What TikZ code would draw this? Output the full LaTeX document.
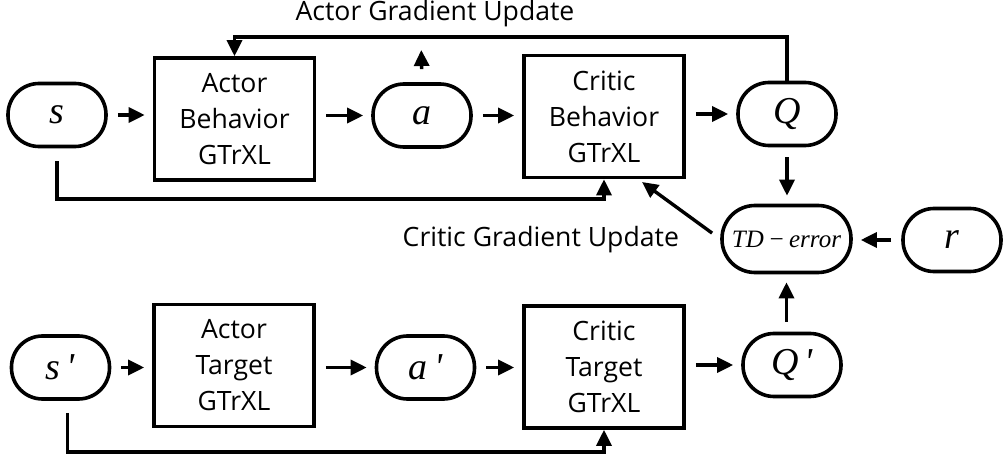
\documentclass[tikz,border=0pt]{standalone}
\usepackage{fontspec}
\setmainfont{Open Sans}
\newfontfamily\mathserif{Liberation Serif}
\usetikzlibrary{arrows.meta}

\tikzset{
  block/.style={draw,line width=1.8pt,minimum width=80pt,minimum height=61pt,
    inner sep=0pt,align=center,font=\fontsize{13.3}{18}\selectfont},
  pill/.style={draw,line width=1.8pt,rounded corners=15.5pt,minimum width=49pt,
    minimum height=31.5pt,inner sep=0pt,font=\mathserif\itshape\fontsize{19}{19}\selectfont},
  arr/.style={line width=1.7pt,-{Triangle[length=8pt,width=7.5pt]}},
  gap/.style={shorten <=5pt,shorten >=4pt},
  lbl/.style={font=\fontsize{13.3}{16}\selectfont},
}

\begin{document}
\begin{tikzpicture}[x=0.5pt,y=-0.5pt]
  \useasboundingbox (0,0) rectangle (1003,460);

  % behaviour networks
  \node[pill] (s) at (57,115) {s};
  \node[block] (actorB) at (234.5,119) {Actor\\Behavior\\GTrXL};
  \node[pill] (a) at (422,115.5) {a};
  \node[block] (criticB) at (604,116.5) {Critic\\Behavior\\GTrXL};
  \node[pill] (Q) at (787,114) {Q};
  \node[pill,minimum width=64.5pt,minimum height=33.5pt,rounded corners=16.5pt,
    font=\mathserif\itshape\fontsize{12.5}{12.5}\selectfont] (td) at (786.5,239) {TD\,−\,error};
  \node[pill] (r) at (952,240) {r};

  % target networks
  \node[pill] (sp) at (60.5,367.5) {s\,\textquotesingle};
  \node[block] (actorT) at (234,365.5) {Actor\\Target\\GTrXL};
  \node[pill] (ap) at (425.5,367.5) {a\,\textquotesingle};
  \node[block] (criticT) at (604,367) {Critic\\Target\\GTrXL};
  \node[pill] (Qp) at (792,365) {Q\,\textquotesingle};

  % labels
  \node[lbl] (agulabel) at (435,14) {Actor Gradient Update};
  \node[lbl,anchor=east] (cgulabel) at (686,240) {Critic Gradient Update};

  \coordinate (topline) at (0,37);
  \coordinate (sline) at (0,199);
  \coordinate (spline) at (0,452);
  \coordinate (agu) at (421,37);
  \coordinate (cgu) at (642,182);

  % forward arrows
  \draw[arr,gap] (s.east) -- (s.east -| actorB.west);
  \draw[arr,gap] (actorB.east |- a.west) -- (a.west);
  \draw[arr,gap] (a.east) -- (a.east -| criticB.west);
  \draw[arr,gap] (criticB.east |- Q.west) -- (Q.west);
  \draw[arr,gap] (sp.east) -- (sp.east -| actorT.west);
  \draw[arr,gap] (actorT.east |- ap.west) -- (ap.west);
  \draw[arr,gap] (ap.east) -- (ap.east -| criticT.west);
  \draw[arr,gap] (criticT.east |- Qp.west) -- (Qp.west);

  % state bypass
  \draw[arr,shorten <=6.5pt] (s.south) -- (s.south |- sline) -| (criticB.south);
  \draw[arr,shorten <=6pt] ([xshift=3.5pt]sp.south) -- ([xshift=3.5pt]sp.south |- spline) -| (criticT.south);

  % gradients and TD error
  \draw[arr] (Q.north) -- (Q.north |- topline) -| (actorB.north);
  \draw[arr,shorten <=6.5pt,shorten >=6.5pt] (a.north) -- (agu);
  \draw[arr,gap] (Q.south) -- (Q.south |- td.north);
  \draw[arr,gap] (r.west) -- (r.west -| td.east);
  \draw[arr,shorten <=5pt,shorten >=4pt] (Qp.north -| td.south) -- (td.south);
  \draw[arr,shorten <=5pt] (td.west) -- (cgu);
\end{tikzpicture}
\end{document}
